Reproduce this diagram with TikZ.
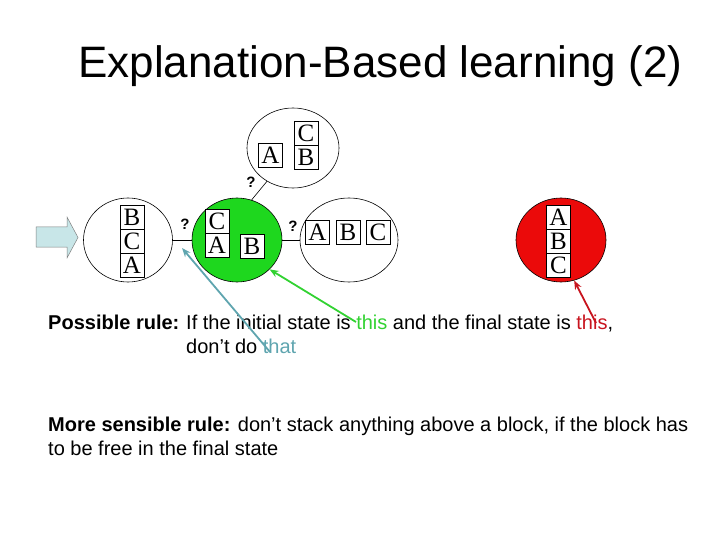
\documentclass[tikz,border=0pt]{standalone}
\usepackage{fontspec}
\setmainfont{Liberation Sans}
\newfontfamily\blkfont{Liberation Serif}
\usetikzlibrary{shapes.geometric,arrows.meta}
\definecolor{gfill}{RGB}{30,215,30}
\definecolor{rfill}{RGB}{235,10,10}
\definecolor{tealc}{RGB}{95,165,175}
\definecolor{gline}{RGB}{50,210,50}
\definecolor{rtext}{RGB}{200,20,30}
\definecolor{arrowfill}{RGB}{200,230,232}
\begin{document}
\begin{tikzpicture}[x=1pt,y=-1pt,
  blk/.style={draw,fill=white,minimum width=24pt,minimum height=24pt,inner sep=0pt,line width=0.6pt,font=\blkfont\fontsize{25}{25}\selectfont},
  st/.style={ellipse,draw,inner sep=0pt,line width=0.6pt},
  q/.style={inner sep=0pt,font=\bfseries\fontsize{15}{15}\selectfont},
  ptr/.style={line width=1.8pt,-{Stealth[length=9pt,width=7pt]}},
  body/.style={anchor=base west,inner sep=0pt,font=\fontsize{20}{24}\selectfont}
]
\useasboundingbox (0,0) rectangle (720,540);
% title
\node[anchor=base west,inner sep=0pt,font=\fontsize{44}{44}\selectfont] (title) at (78,78) {Explanation-Based learning (2)};
% block arrow
\draw[fill=arrowfill,draw=gray,line width=0.5pt] (36,227) -- (67,227) -- (67,217) -- (78,237.5) -- (67,258) -- (67,247) -- (36,247) -- cycle;
% states
\node[st,minimum width=89pt,minimum height=84pt] (s1) at (128,240) {};
\node[st,fill=gfill,minimum width=90pt,minimum height=84pt] (s2) at (237,240) {};
\node[st,minimum width=98pt,minimum height=84pt] (s3) at (349,240) {};
\node[st,minimum width=92pt,minimum height=80pt] (s4) at (293,148) {};
\node[st,fill=rfill,minimum width=90pt,minimum height=84pt] (s5) at (561,240) {};
% connectors
\draw[line width=0.6pt] (s1.east) -- (s2.west);
\draw[line width=0.6pt] (s2.east) -- (s3.west);
\draw[line width=0.6pt] (s2.70) -- (s4.232);
\node[q] (q1) at (185,224) {?};
\node[q] (q2) at (293,226) {?};
\node[q] (q3) at (251,182) {?};
% blocks
\node[blk] (l1) at (132,217) {B};
\node[blk] (l2) at (132,241) {C};
\node[blk] (l3) at (132,265) {A};
\node[blk] (g1) at (217,221.5) {C};
\node[blk] (g2) at (217,245.5) {A};
\node[blk] (g3) at (252,246) {B};
\node[blk] (r1) at (317.5,232.5) {A};
\node[blk] (r2) at (348,232.5) {B};
\node[blk] (r3) at (378,232.5) {C};
\node[blk] (t1) at (270.5,155.5) {A};
\node[blk] (t2) at (306,133) {C};
\node[blk] (t3) at (306,157) {B};
\node[blk] (f1) at (558.5,217) {A};
\node[blk] (f2) at (558.5,241) {B};
\node[blk] (f3) at (558.5,265) {C};
% text
\node[body] (pr) at (48,329) {\textbf{Possible rule:}};
\node[body] (pr1) at (186,329) {If the initial state is \textcolor{gline}{this} and the final state is \textcolor{rtext}{this},};
\node[body] (pr2) at (186,353) {don’t do \textcolor{tealc}{that}};
\node[body] (ms1) at (48,431) {\textbf{More sensible rule:} don’t stack anything above a block, if the block has};
\node[body] (ms2) at (48,455) {to be free in the final state};
% pointers
\coordinate (ta) at (270,352);
\coordinate (tt) at (182,248);
\coordinate (ga) at (356,322);
\coordinate (ra) at (596,323);
\draw[ptr,tealc] (ta) -- (tt);
\draw[ptr,gline] (ga) -- (s2.318);
\draw[ptr,rtext] (ra) -- (s5.288);
\end{tikzpicture}
\end{document}
